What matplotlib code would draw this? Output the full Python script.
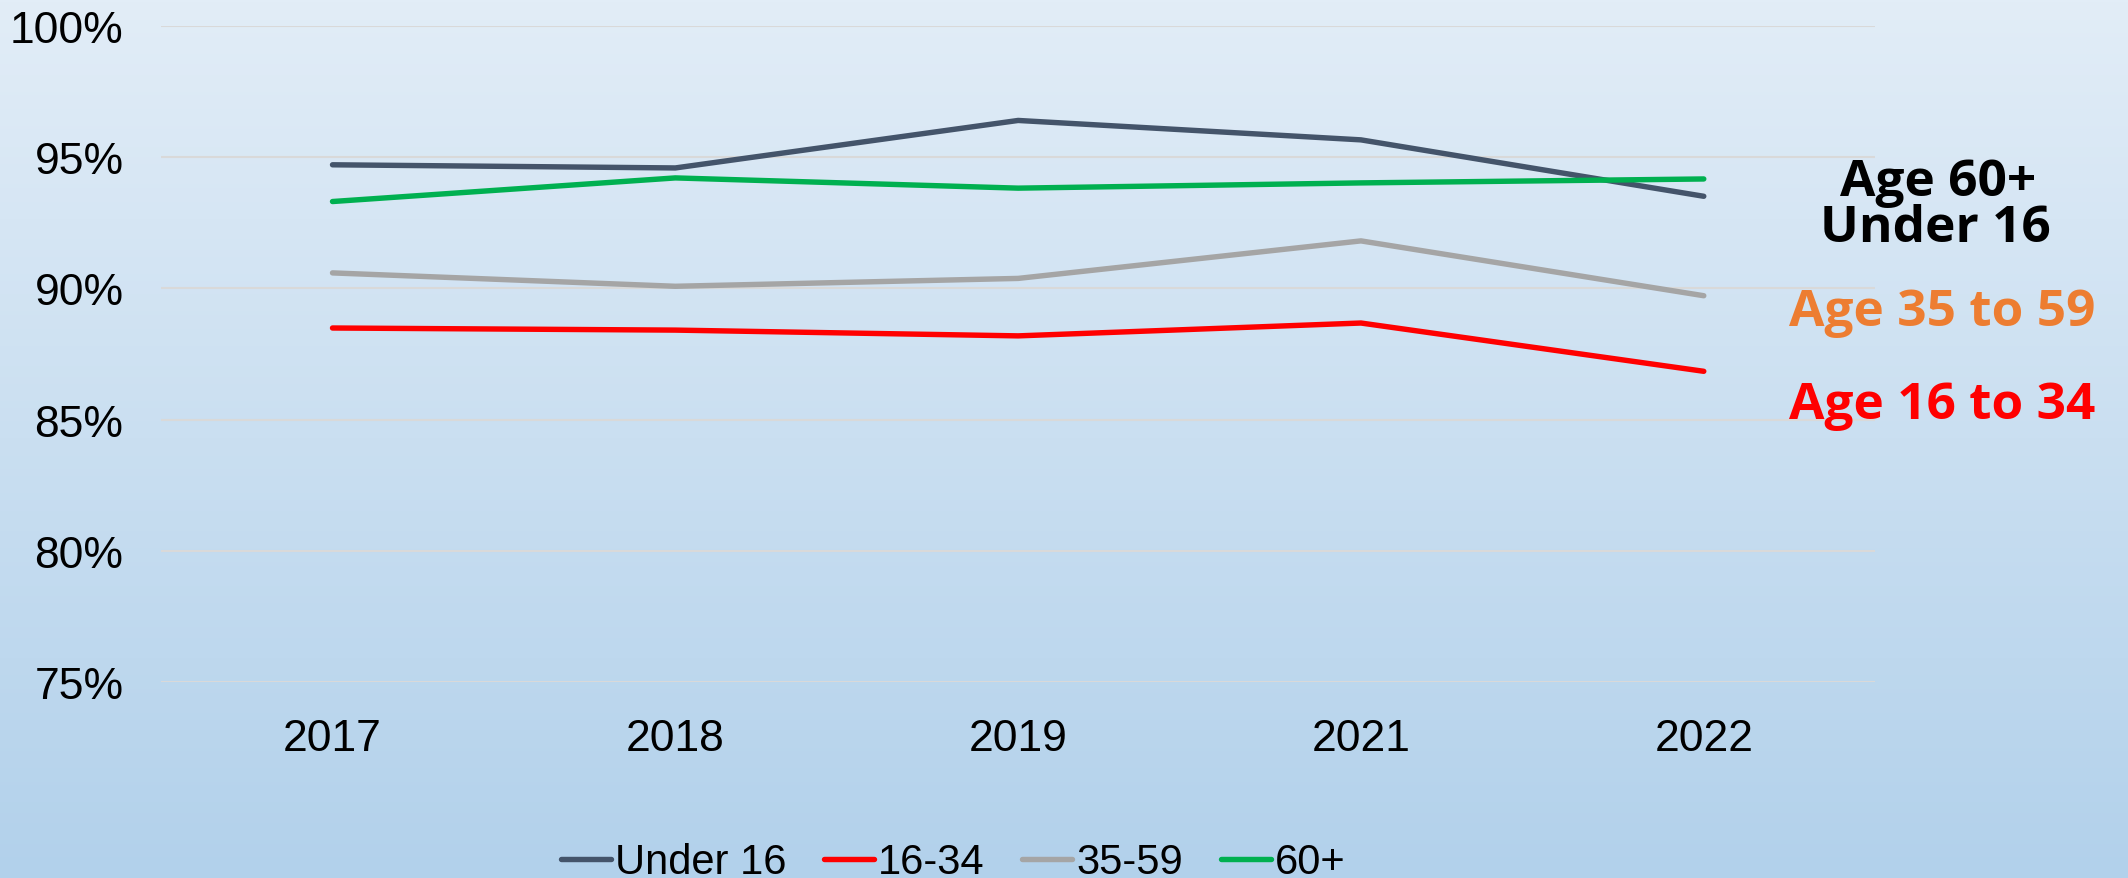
import numpy as np
import matplotlib.pyplot as plt

years = ['2017', '2018', '2019', '2021', '2022']
under16 = [94.71, 94.59, 96.40, 95.66, 93.51]
age16_34 = [88.49, 88.41, 88.19, 88.68, 86.84]
age35_59 = [90.59, 90.08, 90.38, 91.81, 89.72]
age60 = [93.31, 94.21, 93.82, 94.02, 94.17]

series_names = ['Under 16', '16-34', '35-59', '60+']
series_colors = ['#44546A', '#FF0000', '#A5A5A5', '#00B050']

side_labels = ['Age 60+', 'Under 16', 'Age 35 to 59', 'Age 16 to 34']
side_colors = ['black', 'black', '#ED7D31', '#FF0000']

plt.rcParams['font.family'] = ['Liberation Sans', 'DejaVu Sans']

fig = plt.figure(figsize=(21.28, 8.79), dpi=100)

# background gradient over the whole figure
bg = fig.add_axes([0, 0, 1, 1], zorder=-10)
top = np.array([0xE2, 0xED, 0xF7]) / 255
bot = np.array([0xB2, 0xD1, 0xEB]) / 255
t = np.linspace(0, 1, 256)[:, None]
grad = top[None, :] * (1 - t) + bot[None, :] * t
bg.imshow(grad[:, None, :], aspect='auto', extent=[0, 1, 0, 1])
bg.axis('off')

ax = fig.add_axes([0.0757, 0.223, 0.8055, 0.7463])
ax.patch.set_alpha(0)
x = np.arange(len(years))
for vals, name, col in zip([under16, age16_34, age35_59, age60], series_names, series_colors):
    ax.plot(x, vals, color=col, lw=3.9, label=name, solid_capstyle='round')

ax.set_xlim(-0.5, 4.5)
ax.set_ylim(75, 100)
ax.set_yticks(np.arange(75, 101, 5))
ax.set_yticklabels([f'{v}%' for v in range(75, 101, 5)])
ax.set_xticks(x)
ax.set_xticklabels(years)
ax.tick_params(axis='y', length=0, pad=27, labelsize=32)
ax.tick_params(axis='x', length=0, pad=26, labelsize=32)
ax.grid(axis='y', color='#D9D9D9', lw=1.5)
ax.set_axisbelow(True)
for s in ax.spines.values():
    s.set_visible(False)

# labels at the right
label_pos = [(1938, 183), (1935, 229), (1942, 313), (1942, 406)]
for txt, col, (px, py) in zip(side_labels, side_colors, label_pos):
    fig.text(px / 2128, 1 - py / 879, txt, color=col, fontsize=37, fontweight='bold',
             family=['Open Sans', 'DejaVu Sans'], ha='center', va='center')

fig.legend(loc='center', bbox_to_anchor=(0.448, 0.018), ncol=4, frameon=False,
           fontsize=30, handlelength=1.2, handletextpad=0.1, columnspacing=0.9)

fig.savefig('out.png', dpi=100)
